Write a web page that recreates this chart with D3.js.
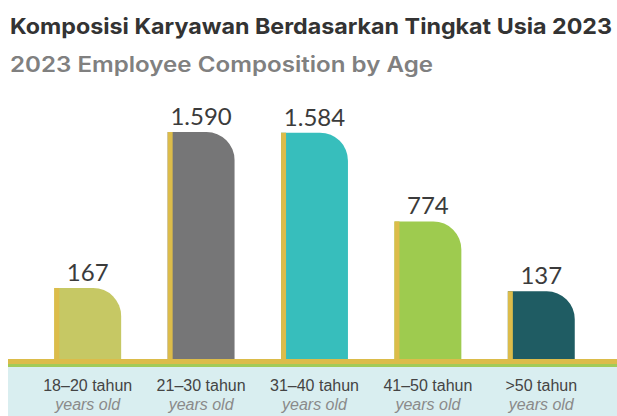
<!DOCTYPE html>
<html>
<head>
<meta charset="utf-8">
<script src="https://cdn.jsdelivr.net/npm/d3@7"></script>
<style>
	html, body { margin: 0; padding: 0; background: #fff; }
	svg { display: block; }
</style>
</head>
<body>
<svg id="chart"></svg>
<script>
const width = 617, height = 416;

// data
const ageGroups = ['18–20 tahun', '21–30 tahun', '31–40 tahun', '41–50 tahun', '>50 tahun'];
const englishLabels = ['years old', 'years old', 'years old', 'years old', 'years old'];
const employees = [167, 1590, 1584, 774, 137];
const barColors = ['#c6c864', '#767677', '#37bebc', '#9ecb4f', '#1f5c63'];

const titleText = 'Komposisi Karyawan Berdasarkan Tingkat Usia 2023';
const subtitleText = '2023 Employee Composition by Age';

const config = {
	baseline: 360,
	gold: '#dcbc4a',
	green: '#a2cb58',
	band: '#d9eef0',
	radius: 28,
	strip: 5
};

const svg = d3.select('#chart').attr('width', width).attr('height', height);

// titles
svg.append('text')
	.attr('x', 10).attr('y', 34)
	.attr('textLength', 602).attr('lengthAdjust', 'spacingAndGlyphs')
	.style('font-family', 'Inter, "Open Sans", sans-serif')
	.style('font-weight', 700).style('font-size', '22px')
	.style('fill', '#333')
	.text(titleText);
svg.append('text')
	.attr('x', 10).attr('y', 72)
	.attr('textLength', 423).attr('lengthAdjust', 'spacingAndGlyphs')
	.style('font-family', 'Inter, "Open Sans", sans-serif')
	.style('font-weight', 600).style('font-size', '21px')
	.style('fill', '#808080')
	.text(subtitleText);

const x = d3.scaleBand()
	.domain(ageGroups)
	.range([31, 598])
	.paddingInner(0.41)
	.paddingOuter(0.205);

// the bars in the original sit on a raised base, so the value axis starts below zero
const y = d3.scaleLinear()
	.domain([-490, 1590])
	.range([config.baseline, config.baseline - 228]);

const rows = ageGroups.map((g, i) => ({ group: g, en: englishLabels[i], value: employees[i], color: barColors[i] }));

// bottom band + lines
svg.append('rect')
	.attr('x', 8).attr('y', config.baseline + 7)
	.attr('width', width - 8).attr('height', height - config.baseline - 7)
	.style('fill', config.band);
svg.append('rect')
	.attr('x', 8).attr('y', config.baseline + 4)
	.attr('width', width - 8).attr('height', 3)
	.style('fill', config.green);

function barPath(d) {
	const x0 = x(d.group), x1 = x0 + x.bandwidth();
	const top = y(d.value), bottom = config.baseline;
	const r = Math.min(config.radius, bottom - top);
	return `M${x0},${bottom}V${top}H${x1 - r}A${r},${r} 0 0 1 ${x1},${top + r}V${bottom}Z`;
}

const bars = svg.append('g').attr('class', 'bars')
	.selectAll('g')
	.data(rows)
	.enter()
	.append('g');

bars.append('path')
	.attr('d', barPath)
	.style('fill', d => d.color);

bars.append('rect')
	.attr('x', d => x(d.group))
	.attr('y', d => y(d.value))
	.attr('width', config.strip)
	.attr('height', d => config.baseline - y(d.value))
	.style('fill', config.gold);

bars.append('text')
	.attr('x', d => x(d.group) + x.bandwidth() / 2)
	.attr('y', d => y(d.value) - 7)
	.attr('text-anchor', 'middle')
	.style('font-family', 'Lato, "Open Sans", sans-serif')
	.style('font-size', '24px')
	.style('fill', '#3b3b3b')
	.text(d => d3.format(',')(d.value).replace(/,/g, '.'));

// gold baseline
svg.append('rect')
	.attr('x', 8).attr('y', config.baseline - 1)
	.attr('width', width - 8).attr('height', 5)
	.style('fill', config.gold);

// category axis
const xAxis = d3.axisBottom(x).tickSize(0).tickPadding(0);
const axisGroup = svg.append('g')
	.attr('class', 'axis')
	.attr('transform', `translate(0, ${config.baseline})`)
	.call(xAxis);
axisGroup.select('.domain').remove();
axisGroup.selectAll('.tick text').remove();
axisGroup.selectAll('.tick').each(function(g, i) {
	const tick = d3.select(this);
	tick.append('text')
		.attr('y', 31)
		.attr('text-anchor', 'middle')
		.style('font-family', '"Liberation Sans", Arial, sans-serif')
		.style('font-size', '16px')
		.style('fill', '#444')
		.text(g);
	tick.append('text')
		.attr('y', 50)
		.attr('text-anchor', 'middle')
		.style('font-family', '"Liberation Sans", Arial, sans-serif')
		.style('font-size', '16px')
		.style('font-style', 'italic')
		.style('fill', '#8a8a8a')
		.text(rows[i].en);
});
</script>
</body>
</html>
